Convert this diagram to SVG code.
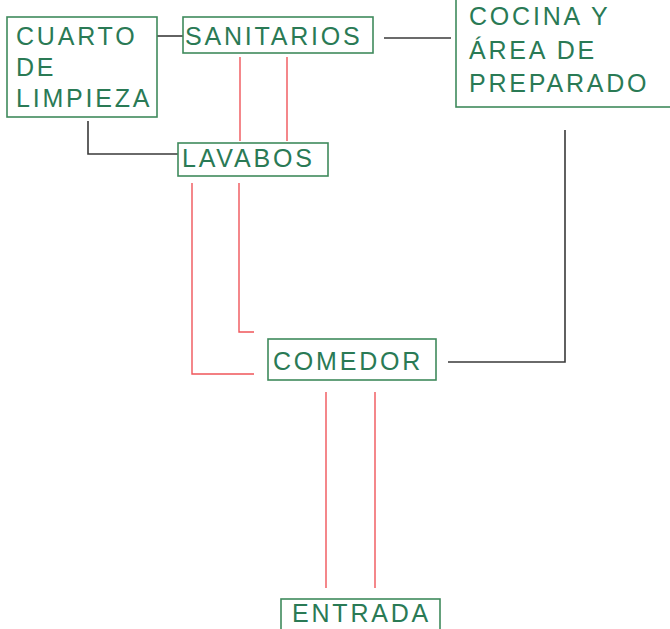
<svg xmlns="http://www.w3.org/2000/svg" width="670" height="629" viewBox="0 0 670 629">
<style>
.box{fill:#fff;stroke:#3f8a5c;stroke-width:1.6}
.t{font-family:"Liberation Sans",Arial,sans-serif;font-size:25px;fill:#2a7a55;letter-spacing:2.8px}
.k{fill:none;stroke:#3a3a3a;stroke-width:1.6}
.r{fill:none;stroke:#f0555a;stroke-width:1.4}
</style>
<rect width="670" height="629" fill="#fff"/>
<g id="connectors">
<path class="k" d="M157 36H183"/>
<path class="k" d="M384 38H451"/>
<path class="k" d="M88 121V154H178"/>
<path class="k" d="M448 362H565V130"/>
<path class="r" d="M240 57V141M287 57V141"/>
<path class="r" d="M239 183V332H254M192 183V374H254"/>
<path class="r" d="M326 392V588M375 392V588"/>
</g>
<g id="cuarto">
<rect class="box" x="7" y="17" width="150" height="100"/>
<text class="t" x="16" y="45">CUARTO</text>
<text class="t" x="16" y="76">DE</text>
<text class="t" x="16" y="107">LIMPIEZA</text>
</g>
<g id="sanitarios">
<rect class="box" x="183" y="17" width="190" height="36"/>
<text class="t" x="185" y="45" letter-spacing="2.2">SANITARIOS</text>
</g>
<g id="cocina">
<rect class="box" x="456" y="-5" width="220" height="112"/>
<text class="t" x="469" y="25">COCINA Y</text>
<text class="t" x="469" y="59">ÁREA DE</text>
<text class="t" x="469" y="92">PREPARADO</text>
</g>
<g id="lavabos">
<rect class="box" x="178" y="143" width="150" height="33"/>
<text class="t" x="182" y="167" letter-spacing="3">LAVABOS</text>
</g>
<g id="comedor">
<rect class="box" x="268" y="339" width="168" height="41"/>
<text class="t" x="273" y="370" letter-spacing="3">COMEDOR</text>
</g>
<g id="entrada">
<rect class="box" x="281" y="599" width="159" height="40"/>
<text class="t" x="292" y="622" letter-spacing="2.6">ENTRADA</text>
</g>
</svg>
